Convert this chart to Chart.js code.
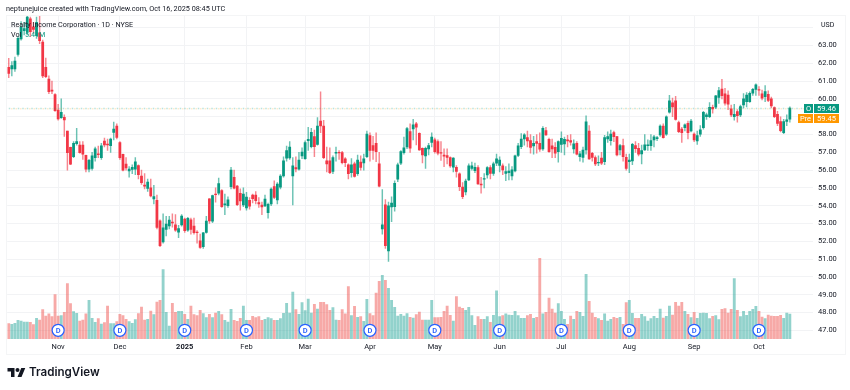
<!DOCTYPE html>
<html>
<head>
<meta charset="utf-8">
<title>Realty Income Corporation</title>
<script src="https://cdn.jsdelivr.net/npm/chart.js@4"></script>
<style>
  html, body { margin: 0; padding: 0; background: #fff; }
  body { width: 850px; height: 390px; position: relative; overflow: hidden; font-family: Roboto, sans-serif; color: #131722; }
  canvas { position: absolute; left: 0; top: 0; }
  .txt { position: absolute; white-space: nowrap; line-height: 10px; }
  .frame { position: absolute; left: 6px; top: 15px; width: 838px; height: 338px; border: 1px solid #f4f5f6; }
  .tag { position: absolute; height: 9px; line-height: 9px; color: #fff; font-size: 7.5px; text-align: center; }
</style>
</head>
<body>
<div class="frame"></div>
<canvas id="chart" width="850" height="390"></canvas>
<div class="txt" style="left:6px;top:4px;font-size:7.25px">neptunejuice created with TradingView.com, Oct 16, 2025 08:45 UTC</div>
<div class="txt" style="left:11px;top:20px;font-size:7.2px">Realty Income Corporation · 1D · NYSE</div>
<div class="txt" style="left:11px;top:30px;font-size:7.2px">Vol</div>
<div class="txt" style="left:25px;top:30px;font-size:7.2px;color:#089981">5.41M</div>
<div class="txt" style="left:821px;top:20px;font-size:7px">USD</div>
<div class="tag" style="left:804px;top:104px;width:9px;background:#089981">O</div>
<div class="tag" style="left:814px;top:104px;width:25px;background:#089981">59.46</div>
<div class="tag" style="left:798px;top:114px;width:15px;background:#ff9800">Pre</div>
<div class="tag" style="left:814px;top:114px;width:25px;background:#ff9800">59.45</div>
<svg style="position:absolute;left:7px;top:366px" width="19" height="14" viewBox="0 0 36 28"><path fill="#131722" d="M14 22H7V11H0V4h14v18zM28 22h-8l7.5-18h8L28 22z"/><circle fill="#131722" cx="20" cy="8" r="4"/></svg>
<div class="txt" style="left:29px;top:363px;font-size:11.6px;line-height:18px;font-weight:600;font-family:Inter,sans-serif">TradingView</div>

<script>
const opens = [
  61.77,61.68,61.68,62.50,63.37,63.83,63.78,64.50,64.05,63.55,
  63.72,63.20,61.77,61.12,60.50,60.24,59.38,58.95,58.97,58.20,
  57.28,56.75,57.48,57.40,57.40,56.83,56.05,56.10,56.70,56.92,
  56.70,57.63,57.46,57.37,58.12,58.47,57.55,56.88,56.34,55.95,
  56.04,56.06,56.25,55.67,55.16,54.97,55.00,54.38,54.30,53.15,
  51.97,52.67,52.86,53.08,52.92,52.52,52.92,53.25,52.63,53.20,
  52.85,52.52,52.02,51.70,52.50,54.39,53.13,54.66,54.70,54.85,
  54.05,54.00,55.07,55.60,55.10,54.70,54.05,53.88,54.30,54.60,
  54.60,54.18,54.03,53.99,53.61,54.10,55.07,54.33,55.04,55.67,
  56.67,56.69,55.67,56.14,56.05,56.80,56.65,57.66,57.32,57.88,
  57.45,58.76,58.48,56.52,56.52,55.92,56.95,57.00,56.98,56.63,
  56.30,55.85,56.35,55.80,56.45,56.40,56.76,57.94,57.38,57.50,
  56.35,52.70,54.05,51.46,53.93,53.95,55.49,56.39,56.98,57.30,
  58.17,58.31,58.60,58.07,57.23,56.80,57.19,57.55,57.70,57.60,
  56.98,56.85,56.82,56.70,56.16,56.16,55.79,55.04,54.78,55.45,
  56.09,55.97,56.14,55.22,55.49,55.73,56.14,55.82,56.39,56.27,
  56.24,55.82,55.86,55.67,55.95,56.82,57.32,57.75,57.83,57.66,
  57.36,57.60,57.51,57.19,58.22,57.73,57.36,57.28,57.04,57.45,
  57.47,57.70,57.66,57.19,57.51,56.76,56.72,57.13,58.20,56.95,
  56.70,56.41,56.67,56.48,57.75,57.66,58.11,57.88,57.13,57.38,
  56.72,56.48,56.52,57.38,57.23,56.91,57.13,57.38,57.38,57.70,
  57.77,57.98,58.48,58.02,59.25,59.78,59.90,58.67,58.30,58.39,
  58.63,58.20,58.02,57.64,58.02,58.39,59.01,59.01,59.53,59.53,
  60.09,60.56,60.28,60.22,59.44,59.00,59.29,59.10,59.66,59.85,
  59.85,60.32,60.54,60.52,60.28,60.13,60.26,60.00,59.51,59.14,
  58.73,58.11,58.73,58.86
];
const highs = [
  62.28,62.10,62.35,63.50,64.35,64.30,64.66,64.60,64.30,64.60,
  64.66,63.30,62.30,61.30,61.00,60.30,59.70,60.00,59.10,58.20,
  57.30,57.60,58.35,57.60,57.60,56.85,56.60,57.00,57.30,57.35,
  57.50,57.80,57.75,57.80,58.70,58.60,57.60,56.90,56.70,56.20,
  56.30,56.70,56.30,56.00,55.80,55.50,55.50,55.15,54.60,53.20,
  53.55,53.40,53.40,53.55,53.50,52.90,53.50,53.30,53.35,53.30,
  53.30,52.60,52.40,52.50,53.40,54.40,54.60,55.00,55.55,54.90,
  54.65,54.50,56.15,56.00,55.15,54.95,55.00,54.75,54.45,54.65,
  54.80,54.45,54.20,54.60,54.15,55.00,55.40,55.30,55.75,56.75,
  57.35,57.60,56.70,56.75,57.00,57.25,57.65,58.40,58.35,58.25,
  58.95,60.40,58.80,57.30,57.25,56.80,57.30,57.10,57.05,56.70,
  56.35,56.65,56.45,56.85,56.80,56.90,58.20,58.10,57.90,58.10,
  57.00,54.90,54.35,54.20,54.50,55.40,56.40,57.10,57.85,58.40,
  58.60,58.85,58.69,58.10,57.25,57.30,57.50,58.10,57.80,57.70,
  57.60,57.20,57.20,56.75,56.70,56.25,55.85,55.30,55.50,56.35,
  56.45,56.40,56.25,55.60,55.80,56.20,56.25,56.45,56.90,56.75,
  56.35,56.20,56.35,56.20,56.85,57.50,58.05,58.05,58.20,58.00,
  57.90,58.00,58.10,58.45,58.40,57.80,57.75,57.55,57.65,58.15,
  57.85,57.95,58.00,57.70,57.60,57.05,57.30,59.05,58.50,57.00,
  56.80,56.80,57.00,57.95,58.15,58.25,58.20,57.90,57.45,57.75,
  56.90,56.90,57.50,57.60,57.50,57.40,58.00,57.70,58.00,57.95,
  57.90,58.55,58.60,59.05,60.20,60.05,60.15,58.75,58.40,58.60,
  58.75,58.85,58.10,58.20,58.50,59.30,59.20,59.80,59.65,60.20,
  60.65,61.10,60.60,60.45,59.65,59.70,59.40,59.65,60.30,60.35,
  60.40,60.60,60.85,60.70,60.50,60.75,60.45,60.10,59.55,59.30,
  59.00,58.85,59.10,59.55
];
const lows = [
  61.19,61.30,61.55,62.40,63.30,63.60,63.60,63.50,63.70,63.40,
  63.10,61.20,61.20,60.30,60.30,59.30,58.80,58.90,57.90,56.00,
  56.30,56.70,57.40,56.95,56.60,55.90,55.90,56.00,56.50,56.70,
  56.60,57.30,57.10,57.00,57.70,57.75,56.60,55.95,56.00,55.60,
  55.80,55.75,55.50,55.20,54.95,54.80,54.50,54.10,52.70,51.70,
  51.90,52.30,52.70,52.80,52.55,52.20,52.85,52.50,52.55,52.40,
  52.40,51.90,51.60,51.60,52.45,53.00,53.05,54.20,54.60,53.90,
  53.50,53.90,54.95,54.95,54.00,53.75,53.95,53.75,53.80,54.15,
  54.10,53.90,53.50,53.95,53.30,54.00,54.40,54.10,54.95,55.60,
  56.50,56.60,54.05,55.90,56.00,56.65,56.60,57.10,57.25,56.75,
  57.40,58.10,56.65,55.90,55.80,55.80,56.50,56.60,56.35,56.20,
  55.50,55.60,55.60,55.70,56.00,56.00,56.70,56.50,56.60,56.48,
  55.05,52.40,51.60,50.87,53.10,53.70,55.35,56.30,56.90,57.20,
  57.00,57.70,57.42,57.10,56.40,56.10,56.85,57.30,56.95,56.85,
  56.55,56.20,56.35,56.15,55.90,55.60,54.85,54.40,54.60,55.40,
  56.00,55.85,55.20,54.70,55.00,55.55,55.50,55.70,56.25,55.90,
  55.75,55.40,55.45,55.45,55.90,56.75,57.20,57.40,57.30,56.95,
  56.90,56.95,57.05,57.10,57.95,57.00,56.70,56.70,56.45,57.00,
  56.85,57.30,57.40,56.95,56.85,56.50,56.45,56.90,56.60,56.50,
  56.25,56.25,56.30,56.30,57.55,57.40,57.60,56.80,56.85,56.50,
  56.00,55.85,56.30,57.00,56.80,56.35,57.10,57.10,57.10,57.30,
  57.65,57.90,57.80,57.95,59.20,59.00,58.80,58.10,57.55,58.20,
  57.75,58.15,57.60,57.45,57.90,58.30,58.85,58.95,59.20,59.45,
  59.75,60.00,59.65,59.40,59.00,58.80,58.70,59.00,59.50,59.55,
  59.80,60.20,60.20,60.20,59.95,59.85,59.85,59.50,58.95,58.50,
  58.15,58.05,58.50,58.70
];
const closes = [
  61.43,61.87,62.13,63.40,64.02,63.96,64.60,63.78,63.90,64.30,
  63.27,61.30,61.25,60.41,60.44,59.34,58.87,59.25,58.82,56.98,
  56.34,57.50,57.61,56.98,56.90,56.05,56.55,56.80,57.20,56.87,
  57.37,57.41,57.42,57.75,58.30,57.84,56.70,56.00,56.13,56.06,
  56.15,56.47,55.74,55.30,55.10,55.33,54.55,54.51,52.78,51.75,
  52.76,52.97,53.19,53.03,52.63,52.71,53.42,52.60,53.29,52.67,
  52.48,52.48,51.66,52.48,53.14,53.15,54.57,54.62,55.24,53.95,
  54.10,54.33,56.00,54.98,54.06,54.27,54.66,54.48,53.98,54.40,
  54.29,54.10,53.93,54.37,54.08,54.94,54.47,55.22,55.67,56.52,
  57.10,57.30,56.24,56.07,56.57,57.02,57.55,57.73,58.13,57.32,
  58.48,58.48,56.70,56.35,55.85,56.70,57.00,56.97,56.42,56.42,
  55.80,56.30,55.64,56.57,56.15,56.63,58.03,57.10,57.10,57.04,
  55.10,52.92,51.76,53.99,54.15,55.26,56.30,57.04,57.25,58.33,
  57.23,58.54,58.42,57.13,56.85,57.23,57.38,57.85,57.04,56.95,
  56.95,56.78,56.72,56.24,56.67,55.92,55.07,54.51,55.39,56.24,
  56.24,56.16,55.22,55.17,55.53,56.14,55.82,56.35,56.63,56.57,
  56.01,55.92,55.94,56.01,56.80,57.36,57.75,57.98,57.64,57.28,
  57.51,57.50,57.17,58.35,57.98,57.04,57.19,56.95,57.60,57.79,
  57.73,57.64,57.57,57.47,56.89,56.91,57.13,58.71,56.63,56.72,
  56.35,56.44,56.39,57.83,57.88,58.02,57.88,56.85,57.38,56.76,
  56.10,56.57,57.45,57.20,56.89,57.10,57.42,57.42,57.66,57.87,
  57.83,58.48,57.83,59.00,59.90,59.55,58.85,58.16,58.10,58.54,
  58.10,58.76,57.70,57.94,58.26,59.25,59.10,59.53,59.44,60.17,
  60.47,60.19,59.76,59.70,59.10,59.14,59.06,59.57,60.00,60.22,
  60.32,60.54,60.79,60.49,60.04,60.41,59.91,59.61,59.01,58.63,
  58.22,58.73,58.82,59.48
];
// volume in millions
const volumes = [
  3.32,3.18,3.39,4.04,3.90,3.68,3.68,3.61,3.10,4.48,
  4.12,6.35,4.98,5.42,4.84,9.60,4.98,5.05,5.78,11.99,
  7.65,5.92,5.56,3.90,4.12,5.42,8.38,4.48,3.61,4.40,
  3.25,3.54,7.15,3.32,3.32,3.75,5.34,5.05,4.26,3.75,
  3.39,4.19,5.49,6.93,4.12,4.26,6.06,5.27,8.01,8.38,
  15.02,5.78,2.82,7.73,5.78,5.99,5.99,5.34,4.26,7.15,
  5.27,5.05,6.21,5.49,4.62,5.34,4.62,5.63,5.99,5.27,
  4.04,3.68,6.43,4.04,3.83,4.48,7.15,4.04,4.04,4.91,
  4.62,4.84,4.04,4.26,4.62,4.40,4.04,4.04,4.40,5.56,
  7.73,5.63,10.18,6.35,5.34,7.87,6.14,8.66,5.63,7.51,
  6.50,7.94,7.94,7.44,6.21,6.79,4.12,4.04,6.35,5.42,
  11.34,5.05,7.08,4.69,4.84,3.83,8.59,5.49,5.05,9.96,
  12.49,13.79,12.71,10.97,8.38,6.86,4.98,5.34,4.98,5.49,
  4.69,4.55,5.27,5.85,4.12,4.12,4.12,8.38,4.62,4.62,
  4.69,5.99,7.15,5.13,3.90,9.17,6.93,6.64,6.21,6.86,
  5.05,2.96,4.84,4.26,4.26,4.84,3.61,5.13,10.40,4.84,
  5.05,5.42,5.20,5.13,5.99,5.05,4.48,4.48,5.05,5.34,
  4.48,4.69,17.47,5.42,5.78,8.88,6.50,5.63,7.65,5.99,
  4.26,3.18,4.98,4.26,5.99,5.78,4.91,14.01,8.16,5.63,
  4.69,4.40,4.04,5.42,3.90,4.26,4.69,4.48,4.69,3.18,
  7.87,8.38,5.56,4.48,4.48,5.34,4.84,3.90,4.40,4.91,
  4.48,6.50,4.55,4.91,7.15,5.20,7.94,7.15,7.94,5.99,
  5.34,4.62,5.78,4.48,5.56,5.63,5.56,4.40,4.91,5.05,
  4.19,6.43,6.57,5.63,6.43,13.07,6.21,4.84,5.99,5.13,
  5.99,6.43,7.08,5.99,4.77,4.40,5.20,4.98,4.91,4.91,
  5.13,4.48,5.63,5.41
];
const monthLabels = ["Nov", "Dec", "2025", "Feb", "Mar", "Apr", "May", "Jun", "Jul", "Aug", "Sep", "Oct"];
const monthIndexes = [16, 36, 57, 77, 96, 117, 138, 159, 179, 201, 222, 243];
const dividendIndexes = [16, 36, 57, 77, 96, 117, 138, 159, 179, 201, 222, 243];
const dividendLevel = 47;
const openPrice = 59.46;
const prePrice = 59.45;
const slots = 261; // candles plus the empty space on the right

const GREEN = "#089981";
const RED = "#f23645";

const labels = Array(slots).fill("");
monthIndexes.forEach((idx, i) => { labels[idx] = monthLabels[i]; });

const isUp = i => closes[i] >= opens[i];
const bodies = opens.map((o, i) => [o, closes[i]]);
const wicks = lows.map((l, i) => [l, highs[i]]);
const dividends = labels.map((_, i) => dividendIndexes.includes(i) ? dividendLevel : null);

// letter inside the dividend circles
const dividendLetters = {
  id: "dividendLetters",
  afterDatasetsDraw(chart) {
    const meta = chart.getDatasetMeta(5);
    const ctx = chart.ctx;
    ctx.save();
    ctx.font = "600 7.5px Roboto";
    ctx.fillStyle = "#2962ff";
    ctx.textAlign = "center";
    ctx.textBaseline = "middle";
    dividendIndexes.forEach(i => {
      const pt = meta.data[i];
      ctx.fillText("D", pt.x, pt.y + 0.5);
    });
    ctx.restore();
  }
};

new Chart(document.getElementById("chart").getContext("2d"), {
  type: "bar",
  data: {
    labels,
    datasets: [
      {
        label: "Volume", yAxisID: "yVol", data: volumes, order: 6, grouped: false, barThickness: 2.2,
        backgroundColor: volumes.map((_, i) => isUp(i) ? "rgba(38,166,154,0.5)" : "rgba(239,83,80,0.5)")
      },
      {
        label: "Wick", yAxisID: "y", data: wicks, order: 5, grouped: false, barThickness: 0.8,
        backgroundColor: wicks.map((_, i) => isUp(i) ? "rgba(8,153,129,0.6)" : "rgba(242,54,69,0.6)")
      },
      {
        label: "Body", yAxisID: "y", data: bodies, order: 4, grouped: false, barThickness: 2.1,
        backgroundColor: bodies.map((_, i) => isUp(i) ? GREEN : RED)
      },
      {
        type: "line", label: "Open", yAxisID: "y", data: labels.map(() => openPrice), order: 3,
        borderColor: "rgba(8,153,129,0.28)", borderWidth: 1.5, borderDash: [1.5, 3], pointRadius: 0
      },
      {
        type: "line", label: "Pre", yAxisID: "y", data: labels.map(() => prePrice), order: 2,
        borderColor: "rgba(255,152,0,0.2)", borderWidth: 1.5, borderDash: [1.5, 3], borderDashOffset: 2.2, pointRadius: 0
      },
      {
        type: "line", label: "Dividends", yAxisID: "y", data: dividends, order: 1, showLine: false,
        pointStyle: "circle", pointRadius: 6, pointBorderWidth: 1.2,
        pointBackgroundColor: "#fff", pointBorderColor: "#2962ff"
      }
    ]
  },
  options: {
    responsive: false,
    animation: false,
    layout: { padding: { left: 6, top: 16, right: 0, bottom: 0 } },
    plugins: { legend: { display: false }, tooltip: { enabled: false } },
    scales: {
      x: {
        afterFit(scale) { scale.height = 51; },
        border: { display: false },
        grid: {
          offset: false,
          drawTicks: false,
          color: ctx => ctx.tick && labels[ctx.tick.value] ? "#f2f3f5" : "transparent"
        },
        ticks: {
          autoSkip: false,
          maxRotation: 0,
          padding: 4,
          color: "#131722",
          font: ctx => ({ family: "Roboto", size: 7.5, weight: ctx.tick && ctx.tick.label === "2025" ? "bold" : "normal" }),
          callback(val) { return labels[val]; }
        }
      },
      y: {
        position: "right",
        min: 46.51,
        max: 64.66,
        afterFit(scale) { scale.width = 37; },
        border: { display: false },
        grid: { color: "#f2f3f5", drawTicks: false },
        ticks: {
          stepSize: 1,
          includeBounds: false,
          padding: 5,
          color: "#131722",
          font: { family: "Roboto", size: 7.5 },
          callback: val => val === 64 ? "" : val.toFixed(2)
        }
      },
      yVol: { display: false, min: 0, max: 69.9 }
    }
  },
  plugins: [dividendLetters]
});
</script>
</body>
</html>
